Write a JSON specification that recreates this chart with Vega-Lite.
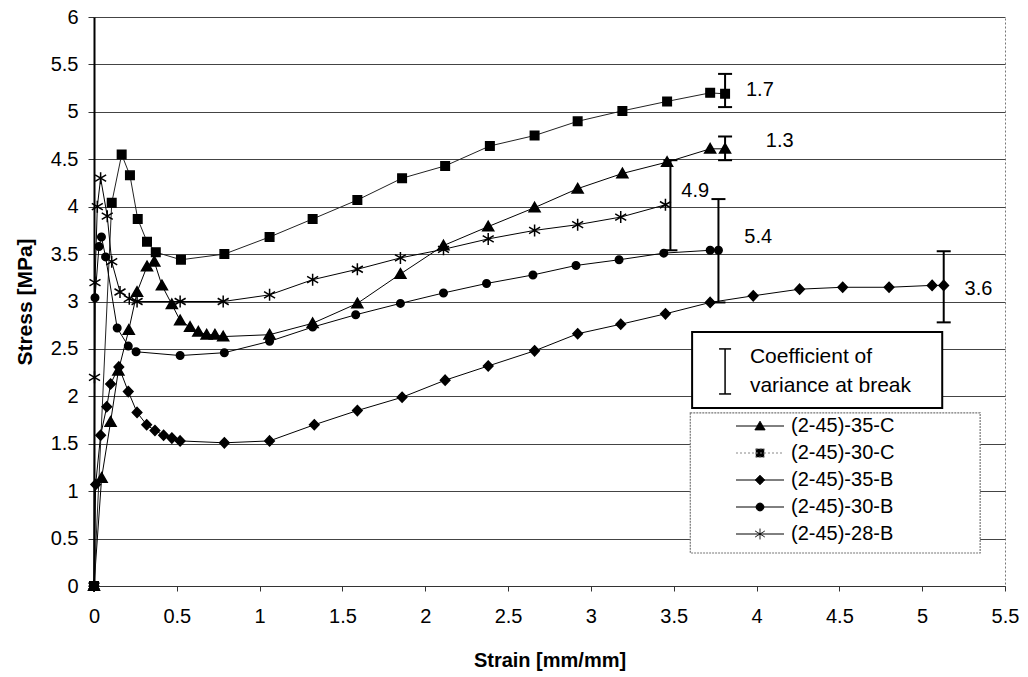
{
"$schema": "https://vega.github.io/schema/vega-lite/v6.json",
"width": 911, "height": 569,
"autosize": {"type": "none"},
"padding": {"left": 94, "top": 17, "right": 23, "bottom": 91},
"background": "white",
"config": {"view": {"stroke": "#777", "strokeDash": [2, 2], "strokeWidth": 1}, "font": "Liberation Sans"},
"datasets": {
"curves": [
{"s":"(2-45)-35-C","i":0,"x":0,"y":0},{"s":"(2-45)-35-C","i":1,"x":0.046,"y":1.14},{"s":"(2-45)-35-C","i":2,"x":0.1,"y":1.73},{"s":"(2-45)-35-C","i":3,"x":0.147,"y":2.27},{"s":"(2-45)-35-C","i":4,"x":0.21,"y":2.7},{"s":"(2-45)-35-C","i":5,"x":0.26,"y":3.1},{"s":"(2-45)-35-C","i":6,"x":0.32,"y":3.37},{"s":"(2-45)-35-C","i":7,"x":0.364,"y":3.42},{"s":"(2-45)-35-C","i":8,"x":0.41,"y":3.17},{"s":"(2-45)-35-C","i":9,"x":0.47,"y":2.97},{"s":"(2-45)-35-C","i":10,"x":0.52,"y":2.8},{"s":"(2-45)-35-C","i":11,"x":0.58,"y":2.73},{"s":"(2-45)-35-C","i":12,"x":0.63,"y":2.68},{"s":"(2-45)-35-C","i":13,"x":0.68,"y":2.65},{"s":"(2-45)-35-C","i":14,"x":0.73,"y":2.65},{"s":"(2-45)-35-C","i":15,"x":0.78,"y":2.63},{"s":"(2-45)-35-C","i":16,"x":1.06,"y":2.65},{"s":"(2-45)-35-C","i":17,"x":1.32,"y":2.77},{"s":"(2-45)-35-C","i":18,"x":1.59,"y":2.98},{"s":"(2-45)-35-C","i":19,"x":1.85,"y":3.29},{"s":"(2-45)-35-C","i":20,"x":2.11,"y":3.59},{"s":"(2-45)-35-C","i":21,"x":2.38,"y":3.79},{"s":"(2-45)-35-C","i":22,"x":2.66,"y":3.99},{"s":"(2-45)-35-C","i":23,"x":2.92,"y":4.19},{"s":"(2-45)-35-C","i":24,"x":3.19,"y":4.35},{"s":"(2-45)-35-C","i":25,"x":3.46,"y":4.47},{"s":"(2-45)-35-C","i":26,"x":3.72,"y":4.61},{"s":"(2-45)-35-C","i":27,"x":3.81,"y":4.61},
{"s":"(2-45)-30-C","i":0,"x":0,"y":0},{"s":"(2-45)-30-C","i":1,"x":0.107,"y":4.04},{"s":"(2-45)-30-C","i":2,"x":0.167,"y":4.55},{"s":"(2-45)-30-C","i":3,"x":0.217,"y":4.33},{"s":"(2-45)-30-C","i":4,"x":0.264,"y":3.87},{"s":"(2-45)-30-C","i":5,"x":0.32,"y":3.63},{"s":"(2-45)-30-C","i":6,"x":0.373,"y":3.52},{"s":"(2-45)-30-C","i":7,"x":0.525,"y":3.44},{"s":"(2-45)-30-C","i":8,"x":0.787,"y":3.5},{"s":"(2-45)-30-C","i":9,"x":1.06,"y":3.68},{"s":"(2-45)-30-C","i":10,"x":1.32,"y":3.87},{"s":"(2-45)-30-C","i":11,"x":1.59,"y":4.07},{"s":"(2-45)-30-C","i":12,"x":1.86,"y":4.3},{"s":"(2-45)-30-C","i":13,"x":2.12,"y":4.43},{"s":"(2-45)-30-C","i":14,"x":2.39,"y":4.64},{"s":"(2-45)-30-C","i":15,"x":2.66,"y":4.75},{"s":"(2-45)-30-C","i":16,"x":2.92,"y":4.9},{"s":"(2-45)-30-C","i":17,"x":3.19,"y":5.01},{"s":"(2-45)-30-C","i":18,"x":3.46,"y":5.11},{"s":"(2-45)-30-C","i":19,"x":3.72,"y":5.2},{"s":"(2-45)-30-C","i":20,"x":3.81,"y":5.19},
{"s":"(2-45)-35-B","i":0,"x":0,"y":0},{"s":"(2-45)-35-B","i":1,"x":0.01,"y":1.07},{"s":"(2-45)-35-B","i":2,"x":0.04,"y":1.59},{"s":"(2-45)-35-B","i":3,"x":0.077,"y":1.89},{"s":"(2-45)-35-B","i":4,"x":0.1,"y":2.13},{"s":"(2-45)-35-B","i":5,"x":0.15,"y":2.31},{"s":"(2-45)-35-B","i":6,"x":0.207,"y":2.05},{"s":"(2-45)-35-B","i":7,"x":0.26,"y":1.83},{"s":"(2-45)-35-B","i":8,"x":0.318,"y":1.7},{"s":"(2-45)-35-B","i":9,"x":0.368,"y":1.64},{"s":"(2-45)-35-B","i":10,"x":0.42,"y":1.59},{"s":"(2-45)-35-B","i":11,"x":0.47,"y":1.56},{"s":"(2-45)-35-B","i":12,"x":0.52,"y":1.53},{"s":"(2-45)-35-B","i":13,"x":0.787,"y":1.51},{"s":"(2-45)-35-B","i":14,"x":1.06,"y":1.53},{"s":"(2-45)-35-B","i":15,"x":1.33,"y":1.7},{"s":"(2-45)-35-B","i":16,"x":1.59,"y":1.85},{"s":"(2-45)-35-B","i":17,"x":1.86,"y":1.99},{"s":"(2-45)-35-B","i":18,"x":2.12,"y":2.17},{"s":"(2-45)-35-B","i":19,"x":2.38,"y":2.32},{"s":"(2-45)-35-B","i":20,"x":2.66,"y":2.48},{"s":"(2-45)-35-B","i":21,"x":2.92,"y":2.66},{"s":"(2-45)-35-B","i":22,"x":3.18,"y":2.76},{"s":"(2-45)-35-B","i":23,"x":3.45,"y":2.87},{"s":"(2-45)-35-B","i":24,"x":3.72,"y":2.99},{"s":"(2-45)-35-B","i":25,"x":3.98,"y":3.06},{"s":"(2-45)-35-B","i":26,"x":4.26,"y":3.13},{"s":"(2-45)-35-B","i":27,"x":4.52,"y":3.15},{"s":"(2-45)-35-B","i":28,"x":4.8,"y":3.15},{"s":"(2-45)-35-B","i":29,"x":5.06,"y":3.17},{"s":"(2-45)-35-B","i":30,"x":5.13,"y":3.17},
{"s":"(2-45)-30-B","i":0,"x":0,"y":0},{"s":"(2-45)-30-B","i":1,"x":0.006,"y":3.04},{"s":"(2-45)-30-B","i":2,"x":0.03,"y":3.58},{"s":"(2-45)-30-B","i":3,"x":0.045,"y":3.68},{"s":"(2-45)-30-B","i":4,"x":0.07,"y":3.47},{"s":"(2-45)-30-B","i":5,"x":0.14,"y":2.72},{"s":"(2-45)-30-B","i":6,"x":0.207,"y":2.53},{"s":"(2-45)-30-B","i":7,"x":0.254,"y":2.47},{"s":"(2-45)-30-B","i":8,"x":0.52,"y":2.43},{"s":"(2-45)-30-B","i":9,"x":0.787,"y":2.46},{"s":"(2-45)-30-B","i":10,"x":1.06,"y":2.58},{"s":"(2-45)-30-B","i":11,"x":1.32,"y":2.73},{"s":"(2-45)-30-B","i":12,"x":1.58,"y":2.86},{"s":"(2-45)-30-B","i":13,"x":1.85,"y":2.98},{"s":"(2-45)-30-B","i":14,"x":2.11,"y":3.09},{"s":"(2-45)-30-B","i":15,"x":2.37,"y":3.19},{"s":"(2-45)-30-B","i":16,"x":2.65,"y":3.28},{"s":"(2-45)-30-B","i":17,"x":2.91,"y":3.38},{"s":"(2-45)-30-B","i":18,"x":3.17,"y":3.44},{"s":"(2-45)-30-B","i":19,"x":3.44,"y":3.51},{"s":"(2-45)-30-B","i":20,"x":3.72,"y":3.54},{"s":"(2-45)-30-B","i":21,"x":3.77,"y":3.54},
{"s":"(2-45)-28-B","i":0,"x":0,"y":0},{"s":"(2-45)-28-B","i":1,"x":0.003,"y":2.2},{"s":"(2-45)-28-B","i":2,"x":0.006,"y":3.2},{"s":"(2-45)-28-B","i":3,"x":0.02,"y":4.0},{"s":"(2-45)-28-B","i":4,"x":0.04,"y":4.3},{"s":"(2-45)-28-B","i":5,"x":0.08,"y":3.9},{"s":"(2-45)-28-B","i":6,"x":0.107,"y":3.42},{"s":"(2-45)-28-B","i":7,"x":0.157,"y":3.1},{"s":"(2-45)-28-B","i":8,"x":0.213,"y":3.03},{"s":"(2-45)-28-B","i":9,"x":0.26,"y":3.0},{"s":"(2-45)-28-B","i":10,"x":0.52,"y":3.0},{"s":"(2-45)-28-B","i":11,"x":0.78,"y":3.0},{"s":"(2-45)-28-B","i":12,"x":1.06,"y":3.07},{"s":"(2-45)-28-B","i":13,"x":1.32,"y":3.23},{"s":"(2-45)-28-B","i":14,"x":1.59,"y":3.34},{"s":"(2-45)-28-B","i":15,"x":1.85,"y":3.46},{"s":"(2-45)-28-B","i":16,"x":2.11,"y":3.55},{"s":"(2-45)-28-B","i":17,"x":2.38,"y":3.66},{"s":"(2-45)-28-B","i":18,"x":2.66,"y":3.75},{"s":"(2-45)-28-B","i":19,"x":2.92,"y":3.81},{"s":"(2-45)-28-B","i":20,"x":3.18,"y":3.89},{"s":"(2-45)-28-B","i":21,"x":3.45,"y":4.02}
],
"cov": [
{"s":"(2-45)-30-C","x":3.81,"lo":5.05,"hi":5.4,"lab":"1.7","lx":4.02,"ly":5.23},
{"s":"(2-45)-35-C","x":3.81,"lo":4.49,"hi":4.74,"lab":"1.3","lx":4.14,"ly":4.69},
{"s":"(2-45)-28-B","x":3.48,"lo":3.54,"hi":4.49,"lab":"4.9","lx":3.63,"ly":4.16},
{"s":"(2-45)-30-B","x":3.77,"lo":2.99,"hi":4.08,"lab":"5.4","lx":4.01,"ly":3.68},
{"s":"(2-45)-35-B","x":5.13,"lo":2.78,"hi":3.53,"lab":"3.6","lx":5.34,"ly":3.13}
]
},
"layer": [
{
"data": {"name": "curves"},
"mark": {"type": "line", "interpolate": "linear"},
"encoding": {
"x": {"field": "x", "type": "quantitative", "scale": {"domain": [0, 5.5], "nice": false},
 "axis": {"title": "Strain [mm/mm]", "values": [0,0.5,1,1.5,2,2.5,3,3.5,4,4.5,5,5.5], "format": "~g", "grid": false,
  "labelFontSize": 20, "labelColor": "black", "labelPadding": 15, "labelFlush": false, "labelOverlap": false,
  "tickColor": "#333", "tickSize": 5, "domainColor": "#333", "domainWidth": 1,
  "titleFontSize": 20, "titleFontWeight": "bold", "titleColor": "black", "titleX": 455.5, "titleY": 74, "titleBaseline": "middle", "titleAlign": "center"}},
"y": {"field": "y", "type": "quantitative", "scale": {"domain": [0, 6], "nice": false},
 "axis": {"title": "Stress [MPa]", "values": [0,0.5,1,1.5,2,2.5,3,3.5,4,4.5,5,5.5,6], "format": "~g", "grid": true, "gridColor": "#444", "gridWidth": 1,
  "labelFontSize": 20, "labelColor": "black", "labelPadding": 10, "labelFlush": false, "labelOverlap": false,
  "tickColor": "#333", "tickSize": 6, "domainColor": "black", "domainWidth": 2,
  "titleFontSize": 21, "titleFontWeight": "bold", "titleColor": "black", "titleX": -69, "titleY": 284.5, "titleAngle": 270, "titleBaseline": "middle", "titleAlign": "center"}},
"detail": {"field": "s"},
"order": {"field": "i", "type": "quantitative"},
"color": {"field": "s", "type": "nominal", "scale": {"domain": ["(2-45)-35-C","(2-45)-30-C","(2-45)-35-B","(2-45)-30-B","(2-45)-28-B"], "range": ["#000000","#222222","#000000","#000000","#000000"]}, "legend": null},
"strokeWidth": {"field": "s", "type": "nominal", "scale": {"domain": ["(2-45)-35-C","(2-45)-30-C","(2-45)-35-B","(2-45)-30-B","(2-45)-28-B"], "range": [1, 1, 2.5, 2.5, 2.5]}, "legend": null}
}
},
{
"data": {"name": "curves"},
"mark": {"type": "point", "filled": true, "fill": "black", "stroke": "black", "opacity": 1, "size": 100},
"encoding": {
"x": {"field": "x", "type": "quantitative"},
"y": {"field": "y", "type": "quantitative"},
"shape": {"field": "s", "type": "nominal", "scale": {"domain": ["(2-45)-35-C","(2-45)-30-C","(2-45)-35-B","(2-45)-30-B","(2-45)-28-B"],
 "range": ["M0,-1.05L1.1,0.85L-1.1,0.85Z", "M-0.85,-0.85H0.85V0.85H-0.85Z", "M0,-1L0.95,0L0,1L-0.95,0Z", "M-0.75,0A0.75,0.75,0,1,0,0.75,0A0.75,0.75,0,1,0,-0.75,0Z", "M0,-1.2V1.2M-1.1,-0.65L1.1,0.65M-1.1,0.65L1.1,-0.65"]}, "legend": null},
"strokeWidth": {"field": "s", "type": "nominal", "scale": {"domain": ["(2-45)-35-C","(2-45)-30-C","(2-45)-35-B","(2-45)-30-B","(2-45)-28-B"], "range": [1.5, 1.5, 1.5, 1.5, 2.4]}, "legend": null}
}
},
{
"data": {"name": "cov"},
"mark": {"type": "rule", "color": "black", "strokeWidth": 2},
"encoding": {"x": {"field": "x", "type": "quantitative"}, "y": {"field": "lo", "type": "quantitative"}, "y2": {"field": "hi"}}
},
{
"data": {"name": "cov"},
"mark": {"type": "tick", "orient": "horizontal", "color": "black", "size": 14, "thickness": 2, "opacity": 1},
"encoding": {"x": {"field": "x", "type": "quantitative"}, "y": {"field": "lo", "type": "quantitative"}}
},
{
"data": {"name": "cov"},
"mark": {"type": "tick", "orient": "horizontal", "color": "black", "size": 14, "thickness": 2, "opacity": 1},
"encoding": {"x": {"field": "x", "type": "quantitative"}, "y": {"field": "hi", "type": "quantitative"}}
},
{
"data": {"name": "cov"},
"mark": {"type": "text", "fontSize": 20, "color": "black", "align": "center", "baseline": "middle", "font": "Liberation Sans"},
"encoding": {"x": {"field": "lx", "type": "quantitative"}, "y": {"field": "ly", "type": "quantitative"}, "text": {"field": "lab"}}
},
{
"data": {"values": [{}]},
"mark": {"type": "rect", "fill": "white", "stroke": "#777", "strokeWidth": 1.2, "strokeDash": [2, 1]},
"encoding": {"x": {"datum": 3.6}, "x2": {"datum": 5.35}, "y": {"datum": 1.825}, "y2": {"datum": 0.348}}
},
{
"data": {"values": [{}]},
"mark": {"type": "rect", "fill": "white", "stroke": "black", "strokeWidth": 2},
"encoding": {"x": {"datum": 3.611}, "x2": {"datum": 5.121}, "y": {"datum": 2.679}, "y2": {"datum": 1.878}}
},
{
"data": {"values": [{}]},
"mark": {"type": "rule", "color": "black", "strokeWidth": 1.5},
"encoding": {"x": {"datum": 3.81}, "y": {"datum": 2.5}, "y2": {"datum": 2.025}}
},
{
"data": {"values": [{"v": 2.5}, {"v": 2.025}]},
"mark": {"type": "tick", "orient": "horizontal", "color": "black", "size": 12, "thickness": 1.5, "opacity": 1},
"encoding": {"x": {"datum": 3.81}, "y": {"field": "v", "type": "quantitative"}}
},
{
"data": {"values": [{"t": "Coefficient of", "v": 2.415}, {"t": "variance at break", "v": 2.11}]},
"mark": {"type": "text", "fontSize": 21, "color": "black", "align": "left", "baseline": "middle", "font": "Liberation Sans"},
"encoding": {"x": {"datum": 3.96}, "y": {"field": "v", "type": "quantitative"}, "text": {"field": "t"}}
},
{
"data": {"name": "curves"},
"mark": {"type": "point", "filled": true, "fill": "black", "opacity": 0},
"encoding": {
"x": {"field": "x", "type": "quantitative"},
"y": {"field": "y", "type": "quantitative"},
"shape": {"field": "s", "type": "nominal", "scale": {"domain": ["(2-45)-35-C","(2-45)-30-C","(2-45)-35-B","(2-45)-30-B","(2-45)-28-B"],
 "range": ["M-8,0H8M0,-1.6L1.7,1.3L-1.7,1.3Z", "M-8,0H8M-1.4,-1.4H1.4V1.4H-1.4Z", "M-8,0H8M0,-1.6L1.6,0L0,1.6L-1.6,0Z", "M-8,0H8M-1.3,0A1.3,1.3,0,1,0,1.3,0A1.3,1.3,0,1,0,-1.3,0Z", "M-8,0H8M0,-1.8V1.8M-1.6,-1L1.6,1M-1.6,1L1.6,-1"]},
 "legend": {"orient": "none", "legendX": 656, "legendY": 399, "title": null, "symbolSize": 36, "symbolOpacity": 1, "symbolFillColor": "black",
  "labelFontSize": 20, "labelColor": "black", "labelFont": "Liberation Sans", "labelOffset": 21, "rowPadding": 7, "padding": 0}},
"stroke": {"field": "s", "type": "nominal", "scale": {"domain": ["(2-45)-35-C","(2-45)-30-C","(2-45)-35-B","(2-45)-30-B","(2-45)-28-B"], "range": ["#000000", "#888888", "#000000", "#000000", "#000000"]},
 "legend": {"orient": "none", "legendX": 656, "legendY": 399, "title": null, "symbolSize": 36, "symbolOpacity": 1, "symbolFillColor": "black",
  "labelFontSize": 20, "labelColor": "black", "labelFont": "Liberation Sans", "labelOffset": 21, "rowPadding": 7, "padding": 0}},
"strokeWidth": {"field": "s", "type": "nominal", "scale": {"domain": ["(2-45)-35-C","(2-45)-30-C","(2-45)-35-B","(2-45)-30-B","(2-45)-28-B"], "range": [1, 1, 2, 2, 1.6]},
 "legend": {"orient": "none", "legendX": 656, "legendY": 399, "title": null, "symbolSize": 36, "symbolOpacity": 1, "symbolFillColor": "black",
  "labelFontSize": 20, "labelColor": "black", "labelFont": "Liberation Sans", "labelOffset": 21, "rowPadding": 7, "padding": 0}},
"strokeDash": {"field": "s", "type": "nominal", "scale": {"domain": ["(2-45)-35-C","(2-45)-30-C","(2-45)-35-B","(2-45)-30-B","(2-45)-28-B"], "range": [[1, 0], [2, 2], [1, 0], [1, 0], [1, 0]]},
 "legend": {"orient": "none", "legendX": 656, "legendY": 399, "title": null, "symbolSize": 36, "symbolOpacity": 1, "symbolFillColor": "black",
  "labelFontSize": 20, "labelColor": "black", "labelFont": "Liberation Sans", "labelOffset": 21, "rowPadding": 7, "padding": 0}}
}
}
],
"resolve": {"scale": {"shape": "independent", "strokeWidth": "independent", "stroke": "independent", "strokeDash": "independent"}, "legend": {"shape": "independent", "strokeWidth": "independent", "stroke": "independent", "strokeDash": "independent"}}
}
